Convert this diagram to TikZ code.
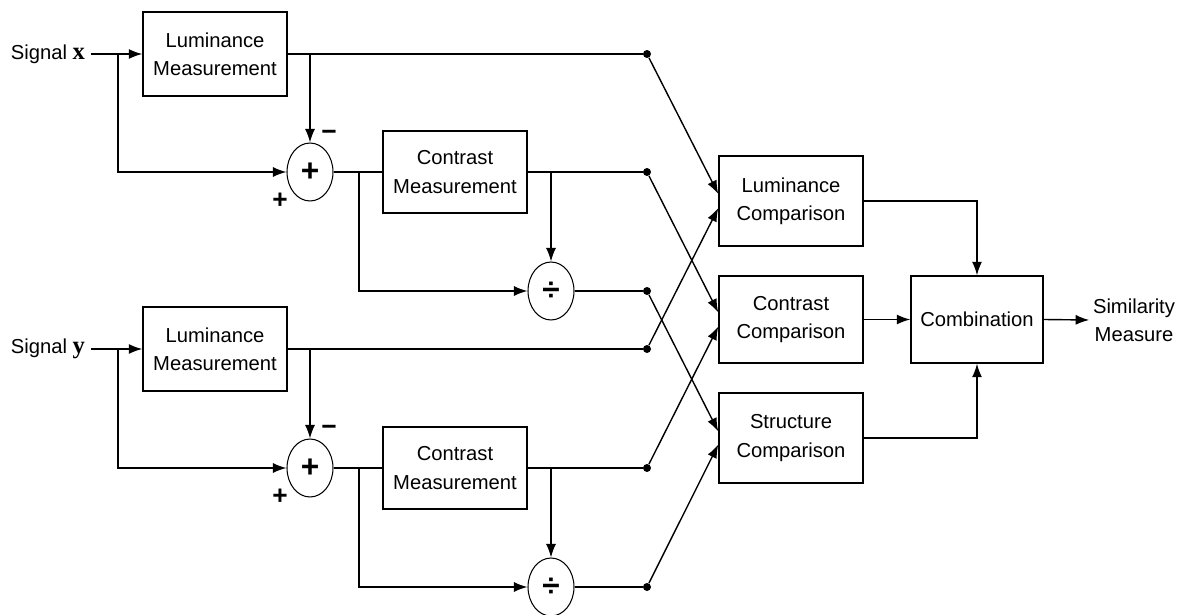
\documentclass[tikz,border=0pt]{standalone}
\usepackage{fontspec}
\setmainfont{Liberation Sans}
\newfontfamily\vecfont{Liberation Serif}
\usetikzlibrary{shapes.geometric, arrows.meta}
\tikzset{
	blockbox/.style={draw, line width=0.8pt, minimum width=2.88cm, minimum height=1.68cm, align=center},
	opnode/.style={draw, ellipse, line width=0.6pt, minimum width=0.92cm, minimum height=1.16cm, inner sep=0pt, font=\fontsize{18}{18}\selectfont\bfseries},
	signlabel/.style={inner sep=0pt, font=\fontsize{15}{15}\selectfont\bfseries},
	tapdot/.style={circle, fill, inner sep=0pt, minimum size=0.16cm},
	wire/.style={line width=0.8pt},
	flow/.style={wire, -{Latex[length=0.27cm, width=0.2cm]}},
}
\newcommand{\dotcol}{647}
\newcommand{\cmpcol}{791}
\newcommand{\sigvec}[1]{{\vecfont\bfseries\fontsize{14}{14}\selectfont #1}}

\begin{document}
\begin{tikzpicture}[x=0.02cm, y=-0.02cm, font=\fontsize{11.5}{16}\selectfont]
	\useasboundingbox (0,0) rectangle (1184,615);
		% inputs
		\node (sigx) at (48,54)  {Signal \sigvec{x}};
		\node (sigy) at (48,349) {Signal \sigvec{y}};
		% measurements for x
		\node[blockbox] (lumx) at (215,54) {Luminance\\Measurement};
		\node[opnode] (subx) at (310,172) {+};
		\node[blockbox, minimum height=1.64cm] (conx) at (455,172) {Contrast\\Measurement};
		\node[opnode] (divx) at (551,291) {÷};
		\node[signlabel] (mix) at (329,135) {−};
		\node[signlabel] (plx) at (280,201) {+};
		% measurements for y
		\node[blockbox] (lumy) at (215,349) {Luminance\\Measurement};
		\node[opnode] (suby) at (310,468) {+};
		\node[blockbox, minimum height=1.64cm] (cony) at (455,468) {Contrast\\Measurement};
		\node[opnode] (divy) at (551,587) {÷};
		\node[signlabel] (miy) at (329,430) {−};
		\node[signlabel] (ply) at (280,497) {+};
		% tap points
		\node[tapdot] (d1) at (\dotcol,54)  {};
		\node[tapdot] (d2) at (\dotcol,172) {};
		\node[tapdot] (d3) at (\dotcol,291) {};
		\node[tapdot] (d4) at (\dotcol,349) {};
		\node[tapdot] (d5) at (\dotcol,468) {};
		\node[tapdot] (d6) at (\dotcol,587) {};
		% comparisons
		\node[blockbox, minimum height=1.8cm]  (lumc) at (\cmpcol,201)   {Luminance\\Comparison};
		\node[blockbox, minimum height=1.74cm] (conc) at (\cmpcol,319.5) {Contrast\\Comparison};
		\node[blockbox, minimum height=1.8cm]  (strc) at (\cmpcol,438)   {Structure\\Comparison};
		\node[blockbox, minimum width=2.64cm, minimum height=1.74cm] (comb) at (977,319.5) {Combination};
		\node[align=center, inner sep=2pt] (sim) at (1134,320) {Similarity\\Measure};
		\coordinate (brx) at (118,54);
		\coordinate (bry) at (118,349);
		\coordinate (bcx) at (359,172);
		\coordinate (bcy) at (359,468);
		% signal x path
		\draw[flow] (sigx) -- (lumx);
		\draw[flow] (brx) |- (subx.west);
		\draw[wire] (lumx.east) -- (d1);
		\draw[flow] (lumx.east -| subx.north) -- (subx.north);
		\draw[wire] (subx.east) -- (conx.west);
		\draw[flow] (bcx) |- (divx.west);
		\draw[wire] (conx.east) -- (d2);
		\draw[flow] (conx.east -| divx.north) -- (divx.north);
		\draw[wire] (divx.east) -- (d3);
		% signal y path
		\draw[flow] (sigy) -- (lumy);
		\draw[flow] (bry) |- (suby.west);
		\draw[wire] (lumy.east) -- (d4);
		\draw[flow] (lumy.east -| suby.north) -- (suby.north);
		\draw[wire] (suby.east) -- (cony.west);
		\draw[flow] (bcy) |- (divy.west);
		\draw[wire] (cony.east) -- (d5);
		\draw[flow] (cony.east -| divy.north) -- (divy.north);
		\draw[wire] (divy.east) -- (d6);
		% crossings into the comparisons
		\draw[flow] (d1) -- ([yshift=0.14cm]lumc.west);
		\draw[flow] (d4) -- ([yshift=-0.14cm]lumc.west);
		\draw[flow] (d2) -- ([yshift=0.14cm]conc.west);
		\draw[flow] (d5) -- ([yshift=-0.14cm]conc.west);
		\draw[flow] (d3) -- ([yshift=0.13cm]strc.west);
		\draw[flow] (d6) -- ([yshift=-0.13cm]strc.west);
		% combination
		\draw[flow] (lumc.east) -| (comb.north);
		\draw[flow] (conc.east) -- (comb.west);
		\draw[flow] (strc.east) -| (comb.south);
		\draw[flow] (comb.east) -- (sim.west);
	\end{tikzpicture}
\end{document}
